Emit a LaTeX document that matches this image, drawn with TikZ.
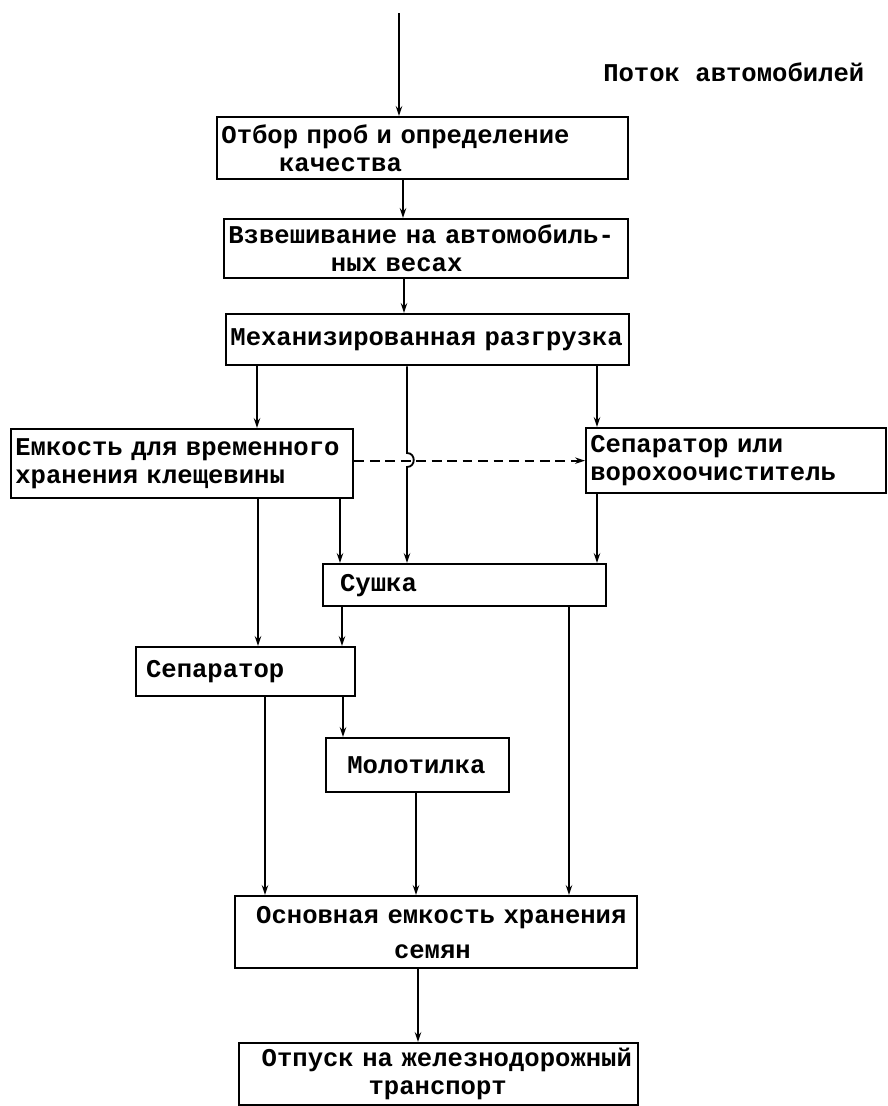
\documentclass[tikz,border=0pt]{standalone}
\usepackage{fontspec}
\setmainfont{Liberation Mono}
\usetikzlibrary{arrows.meta}
\tikzset{
  blk/.style={rectangle,draw,line width=1.6pt,anchor=north west,
              inner xsep=3pt,inner ysep=0pt,align=left,
              font=\fontsize{18.2}{20}\selectfont\bfseries},
  arr/.style={-{Stealth[length=7pt,width=4.5pt]},line width=1.3pt},
  darr/.style={arr,dash pattern=on 7pt off 4pt},
}
\begin{document}
\begin{tikzpicture}[x=0.025cm,y=-0.025cm]
  \useasboundingbox (0,0) rectangle (888,1106);

  \coordinate (vhod) at (399,13);
  \node[anchor=west,inner sep=0pt,font=\fontsize{18.2}{20}\selectfont\bfseries]
    (potok) at (603,72) {Поток автомобилей};

  \node[blk,minimum width=10.275cm,minimum height=1.55cm,text width=10.06cm]
    (otbor) at (216,116) {Отбор проб и определение\\\hspace*{41pt}качества};
  \node[blk,minimum width=10.1cm,minimum height=1.475cm,text width=9.89cm]
    (vzves) at (223,218) {Взвешивание на автомобиль-\\\hspace*{73pt}ных весах};
  \node[blk,minimum width=10.075cm,minimum height=1.275cm,text width=9.86cm]
    (mekh) at (225,313) {Механизированная разгрузка};

  \node[blk,minimum width=8.55cm,minimum height=1.725cm,text width=8.34cm]
    (emk) at (10,428) {Емкость для временного\\хранения клещевины};
  \node[blk,minimum width=7.5cm,minimum height=1.625cm,text width=7.29cm]
    (sepili) at (585,427) {Сепаратор или\\ворохоочиститель};

  \node[blk,minimum width=7.075cm,minimum height=1.05cm,text width=6.86cm]
    (sushka) at (322,563) {\hspace*{9pt}Сушка};
  \node[blk,minimum width=5.475cm,minimum height=1.225cm,text width=5.26cm]
    (sep) at (135,646) {\hspace*{4pt}Сепаратор};
  \node[blk,minimum width=4.575cm,minimum height=1.35cm,text width=4.36cm]
    (molot) at (325,737) {\hspace*{12pt}Молотилка};

  \node[blk,minimum width=10.05cm,minimum height=1.8cm,text width=9.84cm]
    (osn) at (234,895) {\hspace*{12pt}Основная емкость хранения\\[5pt]\hspace*{110pt}семян};
  \node[blk,minimum width=9.975cm,minimum height=1.55cm,text width=9.76cm]
    (otp) at (238,1042) {\hspace*{13pt}Отпуск на железнодорожный\\\hspace*{89pt}транспорт};

  % основной поток
  \draw[arr] (vhod) -- (otbor.north -| vhod);
  \draw[arr] (otbor.south -| 403,0) -- (vzves.north -| 403,0);
  \draw[arr] (vzves.south -| 404,0) -- (mekh.north -| 404,0);

  % после разгрузки
  \draw[arr] (mekh.south -| 257,0) -- (emk.north -| 257,0);
  \draw[arr] (mekh.south -| 597,0) -- (sepili.north -| 597,0);
  \draw[arr] (mekh.south -| 407,0) -- (407,453)
    .. controls (416,453) and (416,467) .. (407,467) -- (sushka.north -| 407,0);
  \draw[darr] (emk.east |- sepili.west) -- (sepili.west);

  \draw[arr] (emk.south -| 258,0) -- (sep.north -| 258,0);
  \draw[arr] (emk.south -| 340,0) -- (sushka.north -| 340,0);
  \draw[arr] (sepili.south -| 597,0) -- (sushka.north -| 597,0);

  \draw[arr] (sushka.south -| 342,0) -- (sep.north -| 342,0);
  \draw[arr] (sep.south -| 343,0) -- (molot.north -| 343,0);

  % в основную емкость
  \draw[arr] (sep.south -| 265,0) -- (osn.north -| 265,0);
  \draw[arr] (molot.south -| 416,0) -- (osn.north -| 416,0);
  \draw[arr] (sushka.south -| 569,0) -- (osn.north -| 569,0);
  \draw[arr] (osn.south -| 418,0) -- (otp.north -| 418,0);
\end{tikzpicture}
\end{document}
